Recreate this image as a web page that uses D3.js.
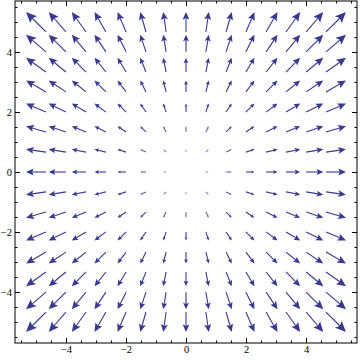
<!DOCTYPE html>
<html>
<head>
<meta charset="utf-8">
<script src="https://cdn.jsdelivr.net/npm/d3@7"></script>
<style>
  body { margin: 0; background: #fff; }
  svg { display: block; }
  .tick text { font-family: "Liberation Serif", "DejaVu Serif", serif; font-size: 10.5px; fill: #000; }
</style>
</head>
<body>
<svg id="plot" width="360" height="360"></svg>
<script>
// grid of sample points (15 x 15) and the vector components
const gridX = [-5, -4.29, -3.57, -2.86, -2.14, -1.43, -0.71, 0, 0.71, 1.43, 2.14, 2.86, 3.57, 4.29, 5];
const gridY = [-5, -4.29, -3.57, -2.86, -2.14, -1.43, -0.71, 0, 0.71, 1.43, 2.14, 2.86, 3.57, 4.29, 5];
// u depends on the column only, v on the row only (radial field)
const uByColumn = [-5, -4.29, -3.57, -2.86, -2.14, -1.43, -0.71, 0, 0.71, 1.43, 2.14, 2.86, 3.57, 4.29, 5];
const vByRow = [-5, -4.29, -3.57, -2.86, -2.14, -1.43, -0.71, 0, 0.71, 1.43, 2.14, 2.86, 3.57, 4.29, 5];
const majorTicks = [-4, -2, 0, 2, 4];

const arrowColor = '#393990';
const arrowScale = 0.133; // data units of arrow length per unit of magnitude

let svg = d3.select('#plot');
const plotLeft = 15, plotRight = 357, plotTop = 1, plotBottom = 343;

let x = d3.scaleLinear().domain([-5.7, 5.7]).range([plotLeft, plotRight]);
let y = d3.scaleLinear().domain([-5.7, 5.7]).range([plotBottom, plotTop]);

let vectors = [];
gridX.forEach((gx, i) => {
  gridY.forEach((gy, j) => {
    vectors.push({ x: gx, y: gy, u: uByColumn[i], v: vByRow[j] });
  });
});

// arrows
let arrows = svg.append('g')
  .selectAll('g')
  .data(vectors.filter((d) => d.u !== 0 || d.v !== 0))
  .enter()
  .append('g');

arrows.each(function (d) {
  let x0 = x(d.x - d.u * arrowScale / 2), y0 = y(d.y - d.v * arrowScale / 2);
  let x1 = x(d.x + d.u * arrowScale / 2), y1 = y(d.y + d.v * arrowScale / 2);
  let dx = x1 - x0, dy = y1 - y0;
  let len = Math.sqrt(dx * dx + dy * dy);
  let ux = dx / len, uy = dy / len;
  let headLen = len * 0.38, headHalf = len * 0.17;
  let bx = x1 - ux * headLen, by = y1 - uy * headLen;
  let nx = x1 - ux * headLen * 0.82, ny = y1 - uy * headLen * 0.82;
  let g = d3.select(this);
  let alpha = Math.min(1, 0.35 + len / 14);
  g.append('line')
    .attr('x1', x0).attr('y1', y0)
    .attr('x2', nx).attr('y2', ny)
    .attr('stroke', arrowColor)
    .attr('stroke-opacity', alpha)
    .attr('stroke-width', 1.1);
  g.append('path')
    .attr('d', 'M' + x1 + ',' + y1 +
      'L' + (bx - uy * headHalf) + ',' + (by + ux * headHalf) +
      'L' + nx + ',' + ny +
      'L' + (bx + uy * headHalf) + ',' + (by - ux * headHalf) + 'Z')
    .attr('fill', arrowColor)
    .attr('fill-opacity', alpha);
});

// frame
svg.append('rect')
  .attr('x', plotLeft).attr('y', plotTop)
  .attr('width', plotRight - plotLeft).attr('height', plotBottom - plotTop)
  .attr('fill', 'none')
  .attr('stroke', '#000')
  .attr('stroke-width', 1);

let minorTicks = d3.range(-5.5, 5.51, 0.5).filter((t) => majorTicks.indexOf(t) < 0);

function addAxis(axisFn, scale, transform, labels) {
  svg.append('g')
    .attr('transform', transform)
    .call(axisFn(scale).tickValues(minorTicks).tickSize(-2.5).tickFormat(''))
    .call((g) => g.select('.domain').remove());
  let ax = svg.append('g')
    .attr('transform', transform)
    .call(axisFn(scale).tickValues(majorTicks).tickSize(-5).tickPadding(3)
      .tickFormat(labels ? d3.format('') : ''));
  ax.select('.domain').remove();
  ax.selectAll('line').attr('stroke', '#000');
}

addAxis(d3.axisBottom, x, 'translate(0,' + plotBottom + ')', true);
addAxis(d3.axisTop, x, 'translate(0,' + plotTop + ')', false);
addAxis(d3.axisLeft, y, 'translate(' + plotLeft + ',0)', true);
addAxis(d3.axisRight, y, 'translate(' + plotRight + ',0)', false);
</script>
</body>
</html>
